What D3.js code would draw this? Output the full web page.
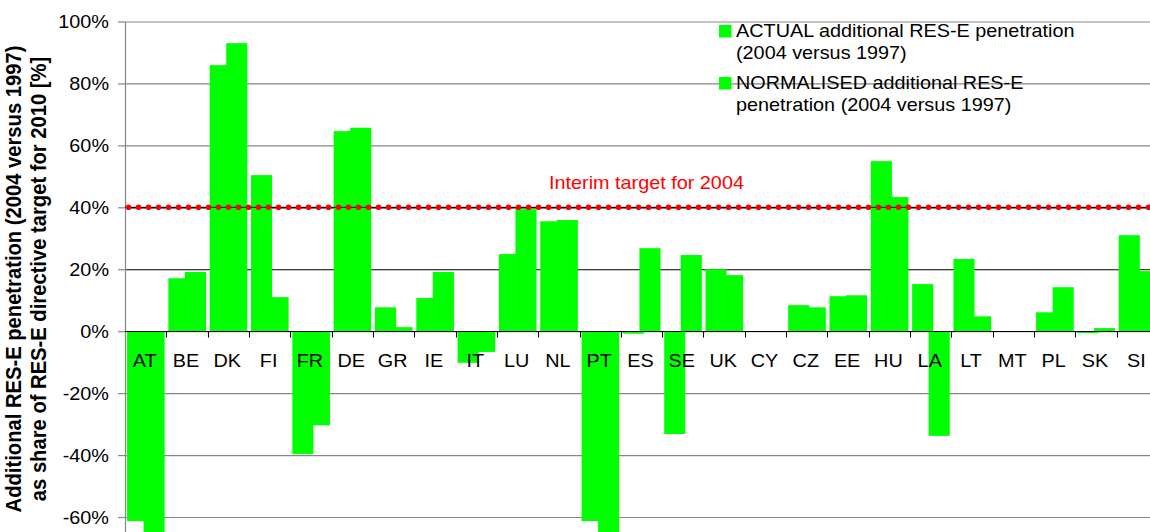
<!DOCTYPE html>
<html>
<head>
<meta charset="utf-8">
<script src="https://cdn.jsdelivr.net/npm/d3@7"></script>
<style>
  body { margin: 0; background: #fff; }
  svg { display: block; font-family: "Liberation Sans", Arial, sans-serif; }
</style>
</head>
<body>
<div id="chart"></div>
<script>
const countries = ["AT", "BE", "DK", "FI", "FR", "DE", "GR", "IE", "IT", "LU", "NL", "PT", "ES",
                   "SE", "UK", "CY", "CZ", "EE", "HU", "LA", "LT", "MT", "PL", "SK", "SI"];
const actual = [-61.3, 17.1, 85.9, 50.4, -39.7, 64.6, 7.7, 10.7, -10.2, 24.9, 35.5, -61.3, -0.8,
                -33.2, 20.0, 0, 8.4, 11.3, 54.9, 15.2, 23.3, 0, 6.1, -0.6, 31.0];
const normalised = [-70, 19.1, 93.0, 11.0, -30.4, 65.7, 1.3, 19.1, -6.7, 39.4, 35.9, -70, 26.8,
                    24.6, 18.1, 0, 7.7, 11.6, 43.3, -33.8, 4.8, 0, 14.2, 1.0, 19.4];
const yTicks = [-60, -40, -20, 0, 20, 40, 60, 80, 100];
const legendLines = [
    ["ACTUAL additional RES-E penetration", "(2004 versus 1997)"],
    ["NORMALISED additional RES-E", "penetration (2004 versus 1997)"]
];
const targetValue = 40;
const targetLabel = "Interim target for 2004";
const yTitle = ["Additional RES-E penetration (2004 versus 1997)",
                "as share of RES-E directive target for 2010 [%]"];

const W = 1150, H = 532;
const LEFT = 125;
const SX = 1.12;   // source text is a bit wider than tall
const FONT = "17.7px";
const GREEN = "#00ff00";

const svg = d3.select("#chart").append("svg")
    .attr("width", W)
    .attr("height", H);

const x = d3.scaleBand().domain(countries).range([LEFT, 1158]);
const y = d3.scaleLinear().domain([-65, 100]).range([532.5, 21.5]);

// gridlines
svg.append("g")
    .attr("transform", `translate(${LEFT},0)`)
    .call(d3.axisLeft(y).tickValues(yTicks).tickSize(-(W - LEFT)).tickFormat(""))
    .call(g => g.select(".domain").remove())
    .call(g => g.selectAll(".tick line")
        .attr("stroke", d => (d === 20 || d === 40) ? "#000" : "#868686")
        .attr("stroke-width", 1.2));

// y axis with labels
svg.append("g")
    .attr("transform", `translate(${LEFT},0)`)
    .call(d3.axisLeft(y).tickValues(yTicks).tickSize(7).tickSizeOuter(0).tickFormat(d => d + "%"))
    .call(g => g.selectAll("path, line").attr("stroke", "#868686").attr("stroke-width", 1.2))
    .call(g => g.selectAll("text")
        .attr("x", null)
        .attr("dy", "0.35em")
        .attr("transform", `translate(-16,0) scale(${SX},1)`)
        .attr("fill", "#000")
        .style("font-size", FONT)
        .style("font-family", "'Liberation Sans', Arial, sans-serif"));

// bars, two overlapping per country
const bw = x.bandwidth();
const series = [
    { values: actual, offset: 0.05 },
    { values: normalised, offset: 0.45 }
];
series.forEach(s => {
    svg.append("g")
        .selectAll("rect")
        .data(countries)
        .join("rect")
        .attr("x", (c) => x(c) + bw * s.offset)
        .attr("width", bw * 0.51)
        .attr("y", (c, i) => y(Math.max(0, s.values[i])))
        .attr("height", (c, i) => Math.abs(y(s.values[i]) - y(0)))
        .attr("fill", GREEN);
});

// zero line and category boundary ticks
const y0 = Math.round(y(0)) + 0.5;
svg.append("line")
    .attr("x1", LEFT).attr("x2", W)
    .attr("y1", y0).attr("y2", y0)
    .attr("stroke", "#000").attr("stroke-width", 1.2);
svg.append("g")
    .selectAll("line")
    .data(countries.slice(1))
    .join("line")
    .attr("x1", c => Math.round(x(c)) + 0.5)
    .attr("x2", c => Math.round(x(c)) + 0.5)
    .attr("y1", y0).attr("y2", y0 + 6)
    .attr("stroke", "#000");

// category labels
svg.append("g")
    .attr("transform", `translate(0,${y(0)})`)
    .call(d3.axisBottom(x).tickSize(0))
    .call(g => g.select(".domain").remove())
    .call(g => g.selectAll("text")
        .attr("y", null)
        .attr("dy", null)
        .attr("transform", `translate(-1,36) scale(${SX},1)`)
        .attr("fill", "#000")
        .style("font-size", FONT)
        .style("font-family", "'Liberation Sans', Arial, sans-serif"));

// target line: black line under red dots
const yt = y(targetValue);
svg.append("line")
    .attr("x1", LEFT).attr("x2", W)
    .attr("y1", yt).attr("y2", yt)
    .attr("stroke", "#000").attr("stroke-width", 1);
svg.append("line")
    .attr("x1", LEFT + 3.5).attr("x2", W)
    .attr("y1", yt).attr("y2", yt)
    .attr("stroke", "#ff0000")
    .attr("stroke-width", 5.6)
    .attr("stroke-linecap", "round")
    .attr("stroke-dasharray", "0 10");
svg.append("text")
    .attr("transform", `translate(549,188.5) scale(${SX},1)`)
    .attr("fill", "#ff0000")
    .style("font-size", FONT)
    .text(targetLabel);

// legend
const legend = svg.append("g");
legendLines.forEach((lines, i) => {
    const top = 25 + i * 52;
    legend.append("rect")
        .attr("x", 719).attr("y", top)
        .attr("width", 12.5).attr("height", 12.5)
        .attr("fill", GREEN);
    lines.forEach((ln, j) => {
        legend.append("text")
            .attr("transform", `translate(736,${top + 12 + j * 21.5}) scale(${SX},1)`)
            .style("font-size", FONT)
            .text(ln);
    });
});

// y axis title
yTitle.forEach((t, i) => {
    svg.append("text")
        .attr("transform", `translate(${21 + i * 25},279) scale(${SX},1) rotate(-90)`)
        .attr("text-anchor", "middle")
        .style("font-size", "20.2px")
        .style("font-weight", "bold")
        .text(t);
});
</script>
</body>
</html>
